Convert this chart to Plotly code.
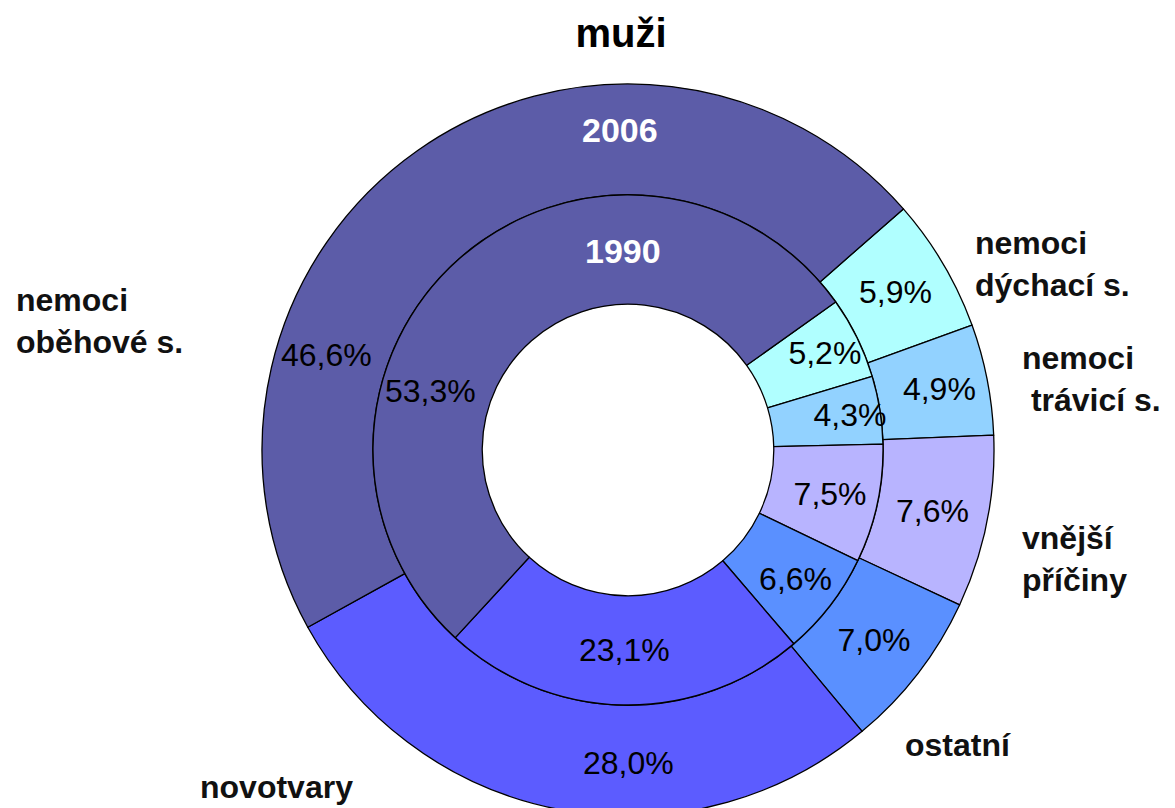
import plotly.graph_objects as go

# ---- data (clockwise order, starting at upper right) ----
categories = ["nemoci dýchací s.", "nemoci trávicí s.", "vnější příčiny",
              "ostatní", "novotvary", "nemoci oběhové s."]
values_2006 = [5.9, 4.9, 7.6, 7.0, 28.0, 46.6]
values_1990 = [5.2, 4.3, 7.5, 6.6, 23.1, 53.3]
slice_colors = ["#b0ffff", "#92d2ff", "#b8b4ff", "#5a90ff", "#5c5cff", "#5c5ca8"]
ring_years = ["2006", "1990"]
title_text = "muži"


def fmt(v):
    return f"{v:.1f}".replace(".", ",") + "%"


# labels of the large slices are placed separately (as in the original)
text_2006 = ["" if c in ("novotvary", "nemoci oběhové s.") else fmt(v)
             for c, v in zip(categories, values_2006)]
text_1990 = ["" if c == "nemoci oběhové s." else fmt(v)
             for c, v in zip(categories, values_1990)]

W, H = 1175, 808
PCT_FONT = "Liberation Sans, Arial, sans-serif"
SANS = "Liberation Sans, Arial, sans-serif"
PCT_SIZE = 32

# geometry (pixels)
cx, cy_bottom = 620, 366
R_out, R_in = 366, 255
hole_out = 258 / 370
hole_in = 147.5 / 258

fig = go.Figure()
fig.add_trace(go.Pie(
    labels=categories, values=values_2006, text=text_2006,
    textinfo="text", textposition="inside", insidetextorientation="horizontal",
    textfont=dict(family=PCT_FONT, size=PCT_SIZE, color="black"),
    marker=dict(colors=slice_colors, line=dict(color="black", width=1.3)),
    hole=hole_out, sort=False, direction="clockwise", rotation=48.8,
    domain=dict(x=[(cx - R_out) / W, (cx + R_out) / W],
                y=[(cy_bottom - R_out) / H, (cy_bottom + R_out) / H]),
    showlegend=False, hoverinfo="label+value", name=ring_years[0],
))
fig.add_trace(go.Pie(
    labels=categories, values=values_1990, text=text_1990,
    textinfo="text", textposition="inside", insidetextorientation="horizontal",
    textfont=dict(family=PCT_FONT, size=PCT_SIZE, color="black"),
    marker=dict(colors=slice_colors, line=dict(color="black", width=1.3)),
    hole=hole_in, sort=False, direction="clockwise", rotation=54.5,
    domain=dict(x=[(cx - R_in) / W, (cx + R_in) / W],
                y=[(cy_bottom - R_in) / H, (cy_bottom + R_in) / H]),
    showlegend=False, hoverinfo="label+value", name=ring_years[1],
))


def px(x, y):
    return x / W, 1 - y / H


annotations = []
# year labels
for yr, (x, y) in zip(ring_years, [(612, 122), (615, 243)]):
    ax, ay = px(x, y)
    annotations.append(dict(text=f"<b>{yr}</b>", x=ax, y=ay, xref="paper", yref="paper",
                            xanchor="center", yanchor="middle", showarrow=False,
                            font=dict(family=SANS, size=34, color="white")))

# labels of large slices
big_labels = [
    (fmt(values_2006[5]), 318, 347),
    (fmt(values_1990[5]), 422, 383),
    (fmt(values_2006[4]), 620, 755),
]
for t, x, y in big_labels:
    ax, ay = px(x, y)
    annotations.append(dict(text=t, x=ax, y=ay, xref="paper", yref="paper",
                            xanchor="center", yanchor="middle", showarrow=False,
                            font=dict(family=PCT_FONT, size=PCT_SIZE, color="black")))

# category labels
cat_text = {
    "nemoci oběhové s.": ("nemoci<br>oběhové s.", 6, 313),
    "nemoci dýchací s.": ("nemoci<br>dýchací s.", 965, 256),
    "nemoci trávicí s.": ("nemoci<br>\u00a0trávicí s.", 1012, 371),
    "vnější příčiny": ("vnější<br>příčiny", 1012, 551),
    "ostatní": ("ostatní", 895, 737),
    "novotvary": ("novotvary", 190, 779),
}
for c in categories:
    t, x, y = cat_text[c]
    ax, ay = px(x, y)
    annotations.append(dict(text=f"<b>{t}</b>", x=ax, y=ay, xref="paper", yref="paper",
                            xanchor="left", yanchor="middle", align="left", showarrow=False,
                            font=dict(family=SANS, size=32, color="#111111")))

fig.update_layout(
    width=W, height=H,
    margin=dict(l=0, r=0, t=0, b=0),
    paper_bgcolor="white", plot_bgcolor="white",
    uniformtext=dict(minsize=PCT_SIZE, mode="show"),
    title=dict(text=f"<b>{title_text}</b>", x=613 / W, xanchor="center",
               y=1 - 25 / H, yanchor="middle", yref="container",
               font=dict(family=SANS, size=40, color="black")),
    annotations=annotations,
)

fig.write_html("out.html")
